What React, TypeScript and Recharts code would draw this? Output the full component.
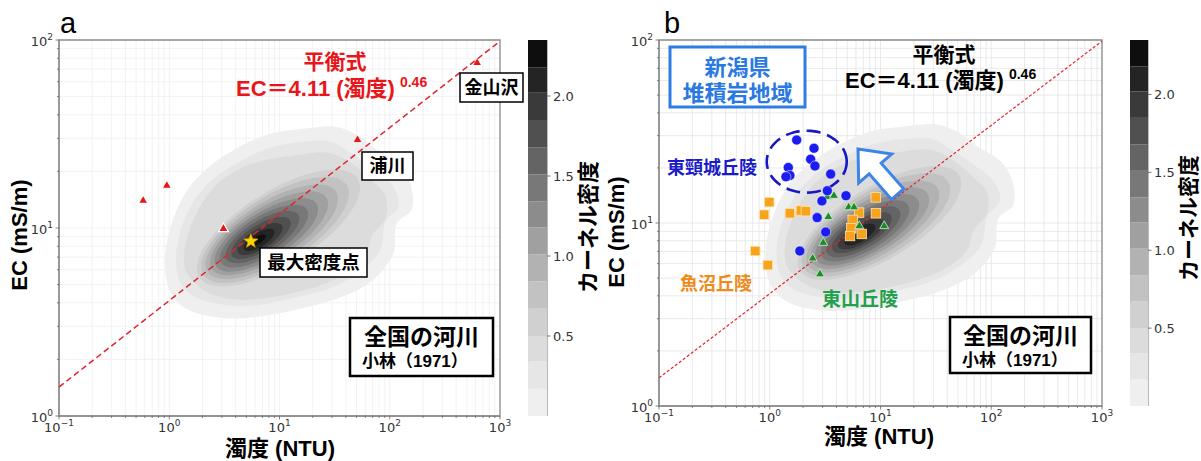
import React from 'react';
import {
  ScatterChart,
  Scatter,
  XAxis,
  YAxis,
  CartesianGrid,
  ReferenceArea,
  BarChart,
  Bar,
} from 'recharts';

// ---------- axes ----------
const NTU_DECADES = [0.1, 1, 10, 100, 1000];
const EC_DECADES = [1, 10, 100];
const MINOR_STEPS = [2, 3, 4, 5, 6, 7, 8, 9];

// equilibrium relation EC = 4.11 * NTU^0.46
const EQ_COEF = 4.11;
const EQ_EXP = 0.46;
const EQ_NTU = [0.1, 1000];

// national rivers (小林 1971) kernel density, in log10(NTU), log10(mS/m)
// three outer levels as outlines, lowest density first
const KDE_OUTER: number[][][] = [
  [[1.25, 1.53], [1.49, 1.54], [1.69, 1.5], [1.87, 1.42], [2.08, 1.34], [2.19, 1.23], [2.2, 1.1], [2.06, 1.02],
   [2.03, 0.86], [1.84, 0.72], [1.55, 0.63], [1.19, 0.57], [0.84, 0.53], [0.51, 0.52], [0.19, 0.56], [0.01, 0.66],
   [-0.04, 0.82], [0.01, 1.0], [0.14, 1.18], [0.33, 1.31], [0.6, 1.42], [0.91, 1.5]],
  [[1.23, 1.46], [1.46, 1.46], [1.64, 1.4], [1.84, 1.32], [2.02, 1.23], [2.08, 1.12], [1.96, 1.03], [1.91, 0.88],
   [1.73, 0.77], [1.46, 0.68], [1.14, 0.63], [0.81, 0.59], [0.51, 0.59], [0.24, 0.63], [0.1, 0.71], [0.06, 0.84],
   [0.11, 1.0], [0.23, 1.15], [0.42, 1.27], [0.66, 1.36], [0.93, 1.43]],
  [[1.19, 1.39], [1.44, 1.4], [1.64, 1.35], [1.82, 1.26], [1.96, 1.17], [1.96, 1.05], [1.84, 0.96], [1.77, 0.84],
   [1.55, 0.74], [1.23, 0.67], [0.9, 0.63], [0.6, 0.62], [0.34, 0.66], [0.16, 0.76], [0.14, 0.89], [0.21, 1.03],
   [0.33, 1.16], [0.51, 1.27], [0.79, 1.35]],
];
// inner levels: centre log10 NTU, centre log10 EC, half width, half height (decades)
const KDE_INNER = [
  [0.99, 1.0, 0.74, 0.225],
  [0.96, 0.99, 0.67, 0.205],
  [0.93, 0.98, 0.6, 0.182],
  [0.905, 0.972, 0.535, 0.16],
  [0.88, 0.963, 0.47, 0.14],
  [0.86, 0.957, 0.4, 0.12],
  [0.845, 0.952, 0.335, 0.1],
  [0.832, 0.947, 0.27, 0.08],
  [0.823, 0.941, 0.205, 0.061],
  [0.814, 0.937, 0.14, 0.043],
  [0.805, 0.936, 0.07, 0.022],
];
const KDE_TILT = 0.29;
const KDE_BOUNDS = [0, 0.17, 0.34, 0.5, 0.67, 0.84, 1.01, 1.18, 1.34, 1.51, 1.68, 1.85, 2.02, 2.18, 2.35];
const KDE_COLORS = [
  '#efefef', '#e6e6e6', '#dcdcdc', '#d0d0d0', '#c2c2c2', '#b2b2b2', '#a0a0a0',
  '#8c8c8c', '#787878', '#646464', '#505050', '#3a3a3a', '#242424', '#0e0e0e',
];
const KDE_TICKS = [0.5, 1.0, 1.5, 2.0];

// panel a: single rivers
const RIVER_NTU = [0.58, 0.95, 51, 620];
const RIVER_EC = [14.0, 16.8, 29.4, 75.5];
const MARKED_NTU = [3.1];
const MARKED_EC = [9.9];
const PEAK_NTU = [5.5];
const PEAK_EC = [8.5];

// panel b: Niigata sedimentary hills
const HIGASHIKUBIKI_NTU = [1.75, 2.51, 2.34, 2.56, 1.47, 1.52, 1.4, 3.55, 3.31, 4.88, 2.96, 2.68, 3.2, 1.87];
const HIGASHIKUBIKI_EC = [28.4, 25.6, 22.3, 20.5, 20.1, 18.2, 17.9, 18.5, 15.0, 14.1, 13.2, 10.7, 8.93, 7.03];
const UONUMA_NTU = [0.99, 0.89, 1.52, 1.91, 2.12, 0.74, 0.96, 9.06, 9.1, 6.4, 5.61, 5.45, 5.31, 6.76];
const UONUMA_EC = [13.0, 11.1, 11.3, 11.7, 11.6, 7.03, 5.89, 13.8, 11.3, 11.4, 10.4, 9.35, 8.49, 8.71];
const HIGASHIYAMA_NTU = [3.31, 3.8, 5.16, 5.77, 3.38, 6.44, 10.8, 3.04, 2.44, 2.84];
const HIGASHIYAMA_EC = [13.9, 14.1, 12.2, 12.2, 10.8, 9.63, 9.63, 7.8, 6.41, 5.25];
// dashed ring round the 東頸城 group and the hollow arrow (log10 units)
const CLUSTER_RING = [0.334, 1.335, 0.361, 0.169];
const ARROW = [[0.797, 1.404], [1.101, 1.377], [1.006, 1.327], [1.209, 1.187], [1.1, 1.129], [0.898, 1.269], [0.803, 1.219]];

// ---------- helpers ----------
type Pt = { x: number; y: number };
const zip = (xs: number[], ys: number[]): Pt[] => xs.map((x, i) => ({ x, y: ys[i] }));
const fromLog = (ring: number[][]): Pt[] => ring.map(([a, b]) => ({ x: 10 ** a, y: 10 ** b }));
const ellipse = ([cx, cy, hw, hv]: number[], tilt: number, n = 64): Pt[] =>
  Array.from({ length: n }, (_, i) => {
    const t = (i / n) * 2 * Math.PI;
    return {
      x: 10 ** (cx + hw * Math.cos(t)),
      y: 10 ** (cy + tilt * hw * Math.cos(t) + hv * Math.sin(t)),
    };
  });

const X_TICKS = NTU_DECADES.flatMap((d, i) => (i < NTU_DECADES.length - 1 ? [d, ...MINOR_STEPS.map((m) => d * m)] : [d]));
const Y_TICKS = EC_DECADES.flatMap((d, i) => (i < EC_DECADES.length - 1 ? [d, ...MINOR_STEPS.map((m) => d * m)] : [d]));

const kdeRings = [...KDE_OUTER.map(fromLog), ...KDE_INNER.map((r) => ellipse(r, KDE_TILT))];
const eqLine = EQ_NTU.map((x) => ({ x, y: EQ_COEF * x ** EQ_EXP }));

// smooth closed path through pixel points
const closedPath = (pts: Pt[]) => {
  const n = pts.length;
  if (n < 3) return '';
  let d = `M${pts[0].x},${pts[0].y}`;
  for (let i = 0; i < n; i++) {
    const p0 = pts[(i - 1 + n) % n];
    const p1 = pts[i];
    const p2 = pts[(i + 1) % n];
    const p3 = pts[(i + 2) % n];
    d += `C${p1.x + (p2.x - p0.x) / 6},${p1.y + (p2.y - p0.y) / 6} ${p2.x - (p3.x - p1.x) / 6},${p2.y - (p3.y - p1.y) / 6} ${p2.x},${p2.y}`;
  }
  return d + 'Z';
};
const polyPath = (pts: Pt[]) => (pts.length < 3 ? '' : pts.map((p, i) => `${i ? 'L' : 'M'}${p.x},${p.y}`).join('') + 'Z');

const outline = (style: React.SVGProps<SVGPathElement>, smooth = true) => (props: any) => {
  const pts: Pt[] = props.points ?? [];
  return <path d={smooth ? closedPath(pts) : polyPath(pts)} {...style} />;
};
const noMarker = () => <g />;

const triangle = (size: number, fill: string, stroke = 'none', sw = 0) => (p: any) => {
  const h = size * 0.866;
  const { cx, cy } = p;
  return (
    <polygon
      points={`${cx},${cy - (2 * h) / 3} ${cx - size / 2},${cy + h / 3} ${cx + size / 2},${cy + h / 3}`}
      fill={fill}
      stroke={stroke}
      strokeWidth={sw}
    />
  );
};
const square = (size: number, fill: string, stroke: string) => (p: any) => (
  <rect x={p.cx - size / 2} y={p.cy - size / 2} width={size} height={size} fill={fill} stroke={stroke} strokeWidth={0.8} />
);
const dot = (r: number, fill: string) => (p: any) => <circle cx={p.cx} cy={p.cy} r={r} fill={fill} stroke="#ffffff" strokeWidth={0.5} />;
const star = (r: number) => (p: any) => {
  const pts = Array.from({ length: 10 }, (_, k) => {
    const a = -Math.PI / 2 + (k * Math.PI) / 5;
    const rr = k % 2 ? r * 0.42 : r;
    return `${p.cx + rr * Math.cos(a)},${p.cy + rr * Math.sin(a)}`;
  });
  return <polygon points={pts.join(' ')} fill="#ffd200" stroke="#c9a400" strokeWidth={0.6} />;
};

const isDecade = (v: number) => Math.abs(Math.log10(v) - Math.round(Math.log10(v))) < 1e-6;
const expText = (v: number) => String(Math.round(Math.log10(v))).replace('-', '\u2212');
const TICK_FONT = "'DejaVu Sans', sans-serif";
const JP = "'Liberation Sans', 'Noto Sans CJK JP', sans-serif";

const XTick = (props: any) => {
  const { x, y, payload } = props;
  const major = isDecade(payload.value);
  return (
    <g>
      <line x1={x} x2={x} y1={y} y2={y + (major ? 3.5 : 2)} stroke="#666" strokeWidth={0.8} />
      {major && (
        <text x={x} y={y + 16} textAnchor="middle" fontSize={13} fill="#333" fontFamily={TICK_FONT}>
          10
          <tspan dy={-6} fontSize={9}>{expText(payload.value)}</tspan>
        </text>
      )}
    </g>
  );
};
const YTick = (props: any) => {
  const { x, y, payload } = props;
  const major = isDecade(payload.value);
  return (
    <g>
      <line x1={x} x2={x - (major ? 3.5 : 2)} y1={y} y2={y} stroke="#666" strokeWidth={0.8} />
      {major && (
        <text x={x - 6} y={y + 5.5} textAnchor="end" fontSize={13} fill="#333" fontFamily={TICK_FONT}>
          10
          <tspan dy={-6} fontSize={9}>{expText(payload.value)}</tspan>
        </text>
      )}
    </g>
  );
};

const AXIS = { stroke: '#8c8c8c', strokeWidth: 1.3 };

type PanelProps = {
  width: number;
  margin: { top: number; right: number; bottom: number; left: number };
  grid: string;
  eqStroke: { strokeWidth: number; strokeDasharray: string };
  children?: React.ReactNode;
};

function DensityPanel({ width, margin, grid, eqStroke, children }: PanelProps) {
  return (
    <ScatterChart width={width} height={461} margin={margin}>
      <CartesianGrid stroke={grid} strokeWidth={0.8} />
      <XAxis
        type="number"
        dataKey="x"
        scale="log"
        domain={[0.1, 1000]}
        allowDataOverflow
        ticks={X_TICKS}
        interval={0}
        tick={(p: any) => <XTick {...p} />}
        tickLine={false}
        tickSize={0}
        tickMargin={0}
        axisLine={AXIS}
        height={30}
      />
      <YAxis
        type="number"
        dataKey="y"
        scale="log"
        domain={[1, 100]}
        allowDataOverflow
        ticks={Y_TICKS}
        interval={0}
        tick={(p: any) => <YTick {...p} />}
        tickLine={false}
        tickSize={0}
        tickMargin={0}
        axisLine={AXIS}
        width={45}
      />
      {kdeRings.map((ring, i) => (
        <Scatter
          key={`kde-${i}`}
          data={ring}
          shape={noMarker}
          line={outline({ fill: KDE_COLORS[i], stroke: 'none' })}
          lineType="joint"
          isAnimationActive={false}
        />
      ))}
      <Scatter
        data={eqLine}
        shape={noMarker}
        line={{ stroke: '#e0262c', ...eqStroke }}
        lineType="joint"
        isAnimationActive={false}
      />
      {children}
      <ReferenceArea x1={0.1} x2={1000} y1={1} y2={100} fill="none" stroke="#8c8c8c" strokeWidth={1.3} ifOverflow="visible" />
    </ScatterChart>
  );
}

const bandRow = KDE_BOUNDS.slice(1).reduce<Record<string, number | string>>(
  (row, b, i) => ({ ...row, [`L${i}`]: b - KDE_BOUNDS[i] }),
  { name: 'kde' },
);

function ColorBar({ barWidth, height }: { barWidth: number; height: number }) {
  const top = KDE_BOUNDS[KDE_BOUNDS.length - 1];
  return (
    <BarChart width={barWidth + 45} height={height} data={[bandRow]} margin={{ top: 0, right: 0, bottom: 0, left: 0 }} barCategoryGap={0} barGap={0}>
      <XAxis dataKey="name" hide />
      <YAxis
        orientation="right"
        type="number"
        domain={[0, top]}
        allowDataOverflow
        ticks={KDE_TICKS}
        interval={0}
        width={45}
        axisLine={false}
        tickLine={{ stroke: '#555', strokeWidth: 0.8 }}
        tickSize={3.5}
        tickMargin={2.5}
        tick={{ fontSize: 13, fill: '#333', fontFamily: TICK_FONT }}
        tickFormatter={(v: number) => v.toFixed(1)}
      />
      {KDE_COLORS.map((c, i) => (
        <Bar key={c} dataKey={`L${i}`} stackId="kde" fill={c} isAnimationActive={false} />
      ))}
      <ReferenceArea y1={0} y2={top} fill="none" stroke="#8c8c8c" strokeWidth={1.2} ifOverflow="visible" />
    </BarChart>
  );
}

const boxText = (x: number, y: number, w: number, h: number, label: string, size = 18) => (
  <g>
    <rect x={x} y={y} width={w} height={h} fill="#fff" stroke="#000" strokeWidth={1.5} />
    <text x={x + w / 2} y={y + h / 2 + size * 0.36} textAnchor="middle" fontSize={size} fontWeight={700}>
      {label}
    </text>
  </g>
);

const sourceBox = (x: number, y: number, w: number, h: number) => (
  <g>
    <rect x={x} y={y} width={w} height={h} fill="#fff" stroke="#000" strokeWidth={2.5} />
    <text x={x + w / 2} y={y + 27} textAnchor="middle" fontSize={23} fontWeight={700}>全国の河川</text>
    <text x={x + 12} y={y + 49} fontSize={17} fontWeight={700}>小林（1971）</text>
  </g>
);

export default function App() {
  return (
    <div style={{ position: 'absolute', left: 0, top: 0, width: 1201, height: 461, background: '#fff', overflow: 'hidden' }}>
      <div style={{ position: 'absolute', left: 0, top: 0 }}>
        <DensityPanel
          width={600}
          margin={{ top: 40, right: 100, bottom: 15, left: 14 }}
          grid="#efefef"
          eqStroke={{ strokeWidth: 1.5, strokeDasharray: '6 3.5' }}
        >
          <Scatter data={zip(RIVER_NTU, RIVER_EC)} shape={triangle(7.5, '#e8151b')} isAnimationActive={false} />
          <Scatter data={zip(MARKED_NTU, MARKED_EC)} shape={triangle(10, '#e8151b', '#ffffff', 1.2)} isAnimationActive={false} />
          <Scatter data={zip(PEAK_NTU, PEAK_EC)} shape={star(7.5)} isAnimationActive={false} />
        </DensityPanel>
      </div>
      <div style={{ position: 'absolute', left: 600, top: 0 }}>
        <DensityPanel
          width={601}
          margin={{ top: 40, right: 99, bottom: 25, left: 14 }}
          grid="#e4e4e4"
          eqStroke={{ strokeWidth: 1.2, strokeDasharray: '3 2' }}
        >
          <Scatter
            data={fromLog(ARROW)}
            shape={noMarker}
            line={outline({ fill: '#ffffff', stroke: '#3d84e8', strokeWidth: 3, strokeLinejoin: 'miter' }, false)}
            lineType="joint"
            isAnimationActive={false}
          />
          <Scatter
            data={ellipse(CLUSTER_RING, 0)}
            shape={noMarker}
            line={outline({ fill: 'none', stroke: '#1717c8', strokeWidth: 2.6, strokeDasharray: '14 7' })}
            lineType="joint"
            isAnimationActive={false}
          />
          <Scatter data={zip(UONUMA_NTU, UONUMA_EC)} shape={square(9.5, '#f8a31c', '#fde3b0')} isAnimationActive={false} />
          <Scatter data={zip(HIGASHIYAMA_NTU, HIGASHIYAMA_EC)} shape={triangle(9, '#1e8c26', '#d8eed8', 0.8)} isAnimationActive={false} />
          <Scatter data={zip(HIGASHIKUBIKI_NTU, HIGASHIKUBIKI_EC)} shape={dot(5, '#1c1cf0')} isAnimationActive={false} />
        </DensityPanel>
      </div>
      <div style={{ position: 'absolute', left: 528, top: 40 }}>
        <ColorBar barWidth={19} height={376} />
      </div>
      <div style={{ position: 'absolute', left: 1130, top: 40 }}>
        <ColorBar barWidth={18} height={366} />
      </div>

      <svg width={1201} height={461} style={{ position: 'absolute', left: 0, top: 0, pointerEvents: 'none' }} fontFamily={JP}>
        {/* panel a */}
        <text x={60} y={33} fontSize={29} fontFamily="'Liberation Sans', sans-serif">a</text>
        <text transform="translate(27,235) rotate(-90)" textAnchor="middle" fontSize={22} fontWeight={700}>EC (mS/m)</text>
        <text x={280} y={456} textAnchor="middle" fontSize={22} fontWeight={700}>濁度 (NTU)</text>
        <text transform="translate(596,227) rotate(-90)" textAnchor="middle" fontSize={22} fontWeight={700}>カーネル密度</text>
        <text x={335} y={69} textAnchor="middle" fontSize={21} fontWeight={700} fill="#e8151b">平衡式</text>
        <text x={236} y={96} fontSize={22} fontWeight={700} fill="#e8151b">
          EC＝4.11 (濁度)
          <tspan dx={5} dy={-9} fontSize={14}>0.46</tspan>
        </text>
        {boxText(460, 73, 63, 29, '金山沢')}
        {boxText(362, 152, 51, 28, '浦川')}
        {boxText(260, 248, 107, 29, '最大密度点', 18.5)}
        {sourceBox(350, 318, 143, 58)}

        {/* panel b */}
        <text x={664} y={33} fontSize={29} fontFamily="'Liberation Sans', sans-serif">b</text>
        <text transform="translate(624,232) rotate(-90)" textAnchor="middle" fontSize={22} fontWeight={700}>EC (mS/m)</text>
        <text x={879} y={444} textAnchor="middle" fontSize={22} fontWeight={700}>濁度 (NTU)</text>
        <text transform="translate(1196,218) rotate(-90)" textAnchor="middle" fontSize={21} fontWeight={700}>カーネル密度</text>
        <text x={944} y={62} textAnchor="middle" fontSize={21} fontWeight={700}>平衡式</text>
        <text x={845} y={88} fontSize={22} fontWeight={700}>
          EC＝4.11 (濁度)
          <tspan dx={5} dy={-9} fontSize={14}>0.46</tspan>
        </text>
        <rect x={670} y={47} width={135} height={60} fill="#fff" stroke="#2e7de6" strokeWidth={3} />
        <text x={737.5} y={75} textAnchor="middle" fontSize={22} fontWeight={700} fill="#2a79e3">新潟県</text>
        <text x={737.5} y={101} textAnchor="middle" fontSize={22} fontWeight={700} fill="#2a79e3">堆積岩地域</text>
        <text x={667} y={174} fontSize={18} fontWeight={700} fill="#1a1ac8">東頸城丘陵</text>
        <text x={680} y={290} fontSize={18} fontWeight={700} fill="#f08a1a">魚沼丘陵</text>
        <text x={822} y={306} fontSize={19} fontWeight={700} fill="#22a04c">東山丘陵</text>
        {sourceBox(950, 317, 141, 56)}
      </svg>
    </div>
  );
}
